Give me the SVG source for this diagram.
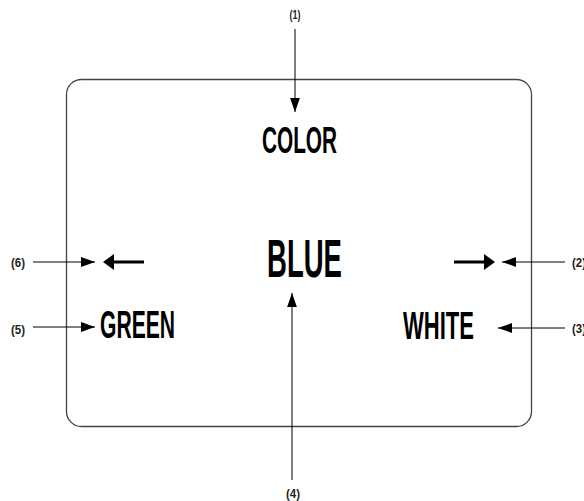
<svg xmlns="http://www.w3.org/2000/svg" width="584" height="501" viewBox="0 0 584 501">
<defs>
<marker id="ah" viewBox="0 0 10 10" refX="10" refY="5" markerWidth="14" markerHeight="14" markerUnits="userSpaceOnUse" orient="auto">
<path d="M0,1.5 L10,5 L0,8.5 Z" fill="#000"/>
</marker>
<style>
.big{font-family:"Liberation Sans",Arial,sans-serif;font-weight:bold;fill:#000;}
.lbl{font-family:"Liberation Sans",Arial,sans-serif;font-weight:bold;font-size:13px;fill:#222;}
.cn{stroke:#000;stroke-width:1;fill:none;marker-end:url(#ah);}
.thick{stroke:#000;stroke-width:3;fill:none;}
</style>
</defs>
<g id="screen">
<rect x="66.5" y="79.5" width="465" height="347" rx="15" ry="15" fill="none" stroke="#444" stroke-width="1.3"/>
</g>
<g id="color"><text class="big" x="262" y="153" font-size="36" textLength="75" lengthAdjust="spacingAndGlyphs">COLOR</text></g>
<g id="blue"><text class="big" x="267" y="277" font-size="54" textLength="75" lengthAdjust="spacingAndGlyphs">BLUE</text></g>
<g id="green"><text class="big" x="100" y="338" font-size="39" textLength="75" lengthAdjust="spacingAndGlyphs">GREEN</text></g>
<g id="white"><text class="big" x="403" y="339" font-size="38" textLength="71" lengthAdjust="spacingAndGlyphs">WHITE</text></g>
<g id="left-arrow">
<line class="thick" x1="144" y1="262" x2="111" y2="262"/>
<path d="M103,262 L114,254 L114,270 Z" fill="#000"/>
</g>
<g id="right-arrow">
<line class="thick" x1="454" y1="262" x2="487" y2="262"/>
<path d="M495,262 L484,254 L484,270 Z" fill="#000"/>
</g>
<g id="labels">
<text class="lbl" x="295" y="19" text-anchor="middle" textLength="11" lengthAdjust="spacingAndGlyphs">(1)</text>
<text class="lbl" x="11" y="267" textLength="14" lengthAdjust="spacingAndGlyphs">(6)</text>
<text class="lbl" x="11" y="334" textLength="14" lengthAdjust="spacingAndGlyphs">(5)</text>
<text class="lbl" x="572" y="267" textLength="14" lengthAdjust="spacingAndGlyphs">(2)</text>
<text class="lbl" x="572" y="333" textLength="14" lengthAdjust="spacingAndGlyphs">(3)</text>
<text class="lbl" x="293" y="498" text-anchor="middle" textLength="14" lengthAdjust="spacingAndGlyphs">(4)</text>
</g>
<g id="connectors">
<line class="cn" x1="295" y1="29" x2="295" y2="112"/>
<line class="cn" x1="33" y1="262" x2="95" y2="262"/>
<line class="cn" x1="33" y1="327" x2="95" y2="327"/>
<line class="cn" x1="565" y1="262" x2="502" y2="262"/>
<line class="cn" x1="565" y1="328" x2="498" y2="328"/>
<line class="cn" x1="292" y1="480" x2="292" y2="293"/>
</g>
</svg>
